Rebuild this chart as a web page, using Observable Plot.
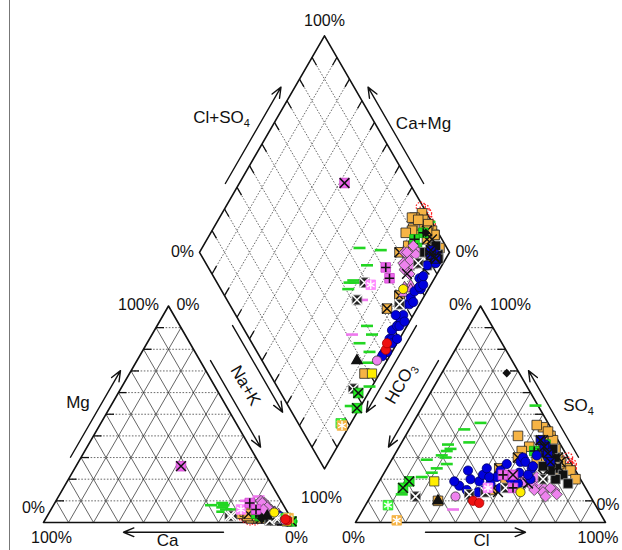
<!DOCTYPE html>
<html><head><meta charset="utf-8">
<script src="https://cdn.jsdelivr.net/npm/d3@7"></script>
<script src="https://cdn.jsdelivr.net/npm/@observablehq/plot@0.6"></script>
<style>body{margin:0;background:#fff;}svg{display:block}</style>
</head><body><div id="chart"></div>
<script>
// Each sample row: [SO4 %, Cl %, Na+K %, Mg %]   (HCO3 = 100 - SO4 - Cl, Ca = 100 - (Na+K) - Mg)
const blueCircle = [[17,33,97,1.5],[15,37,98,1],[20,36,96,2],[24,33,97,1],[14,42,98,1],[19,40,95,2],[22,40,96,1.5],[18,45,97,1],[25,40,95,2],[21,46,96,1],[16,50,98,0.5],[24,46,94,2],[20,52,96,1],[27,47,95,1.5],[18,56,97,1],[23,54,95,2],[28,52,96,1],[20,60,97,1],[30,52,94,2],[25,58,95,1.5],[22,58,96,1],[28,54,97,0.5],[31,57,94,2],[26,58,95,1],[15,44,99,0.5],[13,39,98,1],[19,30,97,1],[21,43,93,3],[33,60,96,1],[36,58,95,1.5],[30,62,97,1]];
const blueSquareX = [[35,58,95,1],[28,64,93,2],[32,61,96,1],[38,55,92,2]];
const orangeSquare = [[40,58,80,3],[44,53,82,2],[30,66,84,2],[25,72,86,3],[36,58,78,4],[33,58,80,3],[28,62,82,2],[24,74,88,2],[38,60,85,2],[42,56,90,2],[20,78,90,2],[31,62,77,4],[26,64,80,4],[35,52,78,5],[40,45,82,3],[29,58,84,3],[22,70,92,2],[33,50,88,3],[45,50,80,3],[27,68,93,2],[34,63,95,2],[10,28,94,2],[20,50,90,3]];
const orangeX = [[38,56,88,2],[25,45,90,3],[28,68,86,2],[15,47,88,3],[30,50,80,4]];
const blackSquare = [[25,68,92,1],[28,64,94,1],[22,72,93,1],[30,65,96,1],[20,70,95,1],[24,66,90,1],[32,60,92,1],[26,62,94,1],[18,76,97,1],[34,62,93,1]];
const blackSquareX = [[12,18,93,2],[14,45,73,3],[13,39,74,3],[20,65,90,1],[16,52,92,2]];
const greenPlus = [[36,58,85,3],[33,55,86,3],[32,57,83,4]];
const violetDiamond = [[17,66,85,8],[15,72,86,7],[19,60,84,9],[14,68,88,6],[18,64,82,10],[16,70,87,6],[20,58,86,7],[13,74,84,8],[17,62,89,5],[21,62,83,9],[12,70,86,7],[15,64,85,6]];
const violetTriangle = [[22,55,92,4],[20,54,90,5],[18,58,93,3],[21,51,91,4]];
const greenDash = [[46,27,72,6],[43,22,63,8],[37,27,70,6],[36,19,68,7],[34,21,69,5],[31,19,84,4],[30,21,68,8],[25,20,91,3],[23,19,93,3],[29,14,85,4],[21,16,99,0.5],[13,12,96,2],[54,45,85,4],[33,20,67,9],[27,23,88,4]];
const pinkDash = [[6,36,80,12],[12,42,76,10]];
const redDotted = [[27,73,80,2],[30,70,82,1],[25,74,78,3],[28,71,84,1],[26,73,86,2]];
const blackTimes = [[30,66,90,1],[22,64,94,2],[14,50,95,1],[18,60,88,2],[26,68,92,1]];
const magentaX = [[22,52,42,26]];
const magentaPlus = [[16,55,78,9],[22,48,82,6]];
const pinkStar = [[16,45,76,6]];
const greenStar = [[8,9,96,2]];
const orangeStar = [[1,16,97,2]];
const greenX = [[19,12,96,2],[16,11,99,0.5]];
const blackTriangle = [[10,28,88,3]];
const yellowCircle = [[14,59,90,4.6]];
const yellowSquare = [[19,22,97,0.5]];
const pinkCircle = [[12,34,96,1]];
const redCircle = [[10,42,97,1],[9,45,96,1.5]];
const blackDiamond = [[69,26,86,2]];

const samples = {blueCircle, blueSquareX, orangeSquare, orangeX, blackSquare, blackSquareX, greenPlus,
  violetDiamond, violetTriangle, greenDash, pinkDash, redDotted, blackTimes, magentaX, magentaPlus,
  pinkStar, greenStar, orangeStar, greenX, blackTriangle, yellowCircle, yellowSquare, pinkCircle, redCircle, blackDiamond};

const gridTicks = d3.range(1, 10).map(i => i / 10);

// ---------- geometry (units: triangle side = 1) ----------
const W = 622, HT = 550, PX = 250, OX = 43, OY = 522;
const G = 0.248, S3 = Math.sqrt(3) / 2;
const A = [0, 0], B = [1, 0], C = [0.5, S3];                 // Ca, Na+K, Mg
const D = [1 + G, 0], E = [2 + G, 0], F = [1.5 + G, S3];     // HCO3, Cl, SO4
const Bd = [1 + G / 2, G * S3], Ld = [0.5 + G / 2, S3 + G * S3], Rd = [1.5 + G / 2, S3 + G * S3], Td = [1 + G / 2, 2 * S3 + G * S3];
const lerp = (p, q, t) => [p[0] + (q[0] - p[0]) * t, p[1] + (q[1] - p[1]) * t];
const mix = (ws) => ws.reduce((a, [p, w]) => [a[0] + p[0] * w, a[1] + p[1] * w], [0, 0]);
const add = (p, dx, dy) => [p[0] + dx, p[1] + dy];

const pts = [];
for (const [key, rows] of Object.entries(samples)) {
  for (const [so4, cl, nak, mg] of rows) {
    const ca = 100 - nak - mg, hco3 = 100 - so4 - cl;
    const c = mix([[A, ca / 100], [B, nak / 100], [C, mg / 100]]);
    const a = mix([[D, hco3 / 100], [E, cl / 100], [F, so4 / 100]]);
    const d = [Td[0] + nak / 100 * (Rd[0] - Td[0]) + hco3 / 100 * (Ld[0] - Td[0]),
               Td[1] + nak / 100 * (Rd[1] - Td[1]) + hco3 / 100 * (Ld[1] - Td[1])];
    for (const p of [c, a, d]) pts.push({key, x: p[0], y: p[1]});
  }
}

// ---------- grid ----------
const seg = (p, q) => ({x1: p[0], y1: p[1], x2: q[0], y2: q[1]});
const dotted = [], solid = [], ticks = [], diaGrid = [];
for (const t of gridTicks) {
  dotted.push(seg(lerp(A, C, t), lerp(B, C, t)));
  solid.push(seg(lerp(A, B, t), lerp(C, B, t)));
  solid.push(seg(lerp(B, A, t), lerp(C, A, t)));
  ticks.push(seg(lerp(A, C, t), add(lerp(A, C, t), 0.032, 0)));
  dotted.push(seg(lerp(D, F, t), lerp(E, F, t)));
  solid.push(seg(lerp(D, E, t), lerp(F, E, t)));
  solid.push(seg(lerp(E, D, t), lerp(F, D, t)));
  ticks.push(seg(lerp(E, F, t), add(lerp(E, F, t), -0.032, 0)));
  diaGrid.push([lerp(Td, Rd, t), lerp(Ld, Bd, t)]);
  diaGrid.push([lerp(Td, Ld, t), lerp(Rd, Bd, t)]);
}
for (const [p, q] of diaGrid) {
  dotted.push(seg(p, q));
  const L = Math.hypot(q[0] - p[0], q[1] - p[1]), k = 0.036 / L;
  ticks.push(seg(p, lerp(p, q, k)));
  ticks.push(seg(q, lerp(q, p, k)));
}
const outline = [
  ...[A, B, C, A].map(p => ({g: 0, x: p[0], y: p[1]})),
  ...[D, E, F, D].map(p => ({g: 1, x: p[0], y: p[1]})),
  ...[Bd, Rd, Td, Ld, Bd].map(p => ({g: 2, x: p[0], y: p[1]}))
];

// ---------- arrows along edges ----------
function edgeArrow(p, q, t0, t1, off) {
  const L = Math.hypot(q[0] - p[0], q[1] - p[1]);
  const nx = -(q[1] - p[1]) / L, ny = (q[0] - p[0]) / L;
  const a = lerp(p, q, t0), b = lerp(p, q, t1);
  return {x1: a[0] + nx * off, y1: a[1] + ny * off, x2: b[0] + nx * off, y2: b[1] + ny * off};
}
const arrows = [
  edgeArrow(A, C, 0.28, 0.68, 0.037),     // Mg
  edgeArrow(E, F, 0.28, 0.68, -0.037),    // SO4
  edgeArrow(B, A, 0.28, 0.68, 0.039),     // Ca
  edgeArrow(D, E, 0.28, 0.68, -0.039),    // Cl
  edgeArrow(C, B, 0.273, 0.673, 0.0365),  // Na+K (triangle)
  edgeArrow(Ld, Bd, 0.32, 0.72, -0.032),  // Na+K (diamond)
  edgeArrow(F, D, 0.273, 0.673, -0.0365), // HCO3 (triangle)
  edgeArrow(Rd, Bd, 0.32, 0.72, 0.032),   // HCO3 (diamond)
  edgeArrow(Ld, Td, 0.29, 0.735, 0.048),  // Cl+SO4
  edgeArrow(Rd, Td, 0.29, 0.735, -0.048)  // Ca+Mg
];

// ---------- labels ----------
const pct = [
  [Td, 0, 0.058, "100%"], [Ld, -0.068, 0, "0%"], [Rd, 0.07, 0, "0%"],
  [C, -0.12, 0.004, "100%"], [C, 0.078, 0.004, "0%"], [A, -0.04, 0.06, "0%"],
  [A, 0.032, -0.062, "100%"], [B, 0.012, -0.062, "0%"],
  [F, -0.08, 0.004, "0%"], [F, 0.12, 0.004, "100%"], [E, 0.01, 0.07, "0%"],
  [D, -0.008, -0.062, "0%"], [E, -0.03, -0.062, "100%"], [D, -0.136, 0.1, "100%"]
].map(([p, dx, dy, text]) => ({x: p[0] + dx, y: p[1] + dy, text}));
const names = [
  [A, 0.138, 0.48, "Mg"], [E, -0.108, 0.468, "SO4"], [A, 0.496, -0.072, "Ca"], [D, 0.504, -0.072, "Cl"],
  [Ld, 0.088, 0.539, "Cl+SO4"], [Rd, -0.104, 0.515, "Ca+Mg"]
].map(([p, dx, dy, text]) => ({x: p[0] + dx, y: p[1] + dy, text}));
const nak = [{x: Bd[0] - 0.316, y: Bd[1] + 0.333, text: "Na+K"}];
const hco = [{x: Bd[0] + 0.304, y: Bd[1] + 0.341, text: "HCO3"}];

// ---------- marker styles ----------
const dash = {draw(ctx, size) { const r = Math.sqrt(size / Math.PI); ctx.moveTo(-r, 0); ctx.lineTo(r, 0); }};
const sq = (fill, stroke = "#222", r = 5.4) => ({symbol: "square", r, fill, stroke, strokeWidth: 0.8});
const tx = (stroke = "#111") => ({symbol: "times", r: 4.5, fill: "none", stroke, strokeWidth: 1.5});
const pl = (stroke = "#111") => ({symbol: "plus", r: 3.1, fill: "none", stroke, strokeWidth: 1.6});
const ast = (stroke = "#fff") => ({symbol: "asterisk", r: 4.2, fill: "none", stroke, strokeWidth: 1.4});
const layers = [
  ["redDotted", {symbol: "circle", r: 4.6, fill: "none", stroke: "#ff2222", strokeWidth: 1.3, strokeDasharray: "1.5,1.5"}],
  ["greenDash", {symbol: dash, r: 6, fill: "none", stroke: "#22d622", strokeWidth: 2.6}],
  ["pinkDash", {symbol: dash, r: 6, fill: "none", stroke: "#ee77ee", strokeWidth: 2.6}],
  ["orangeSquare", sq("#f6b445")],
  ["orangeX", sq("#f6b445")], ["orangeX", tx()],
  ["greenPlus", sq("#22dd22", "#1a1")], ["greenPlus", pl()],
  ["violetDiamond", {symbol: "diamond2", r: 5, fill: "#ee82ee", stroke: "#444", strokeWidth: 0.8}],
  ["violetTriangle", {symbol: "triangle", r: 3.7, fill: "#ee82ee", stroke: "#333", strokeWidth: 0.8}],
  ["blackSquare", sq("#111", "#999")],
  ["blackTimes", tx()],
  ["blueCircle", {symbol: "circle", r: 4.6, fill: "#0000dd", stroke: "#00006a", strokeWidth: 0.8}],
  ["blueSquareX", sq("#0000cc", "#111", 5)], ["blueSquareX", tx()],
  ["blackSquareX", sq("#222", "#888")], ["blackSquareX", tx("#fff")],
  ["greenX", sq("#22ee22", "#1a1")], ["greenX", tx()],
  ["greenStar", sq("#33ff33", "#3c3")], ["greenStar", ast()],
  ["orangeStar", sq("#f6b445", "#f6b445")], ["orangeStar", ast()],
  ["pinkStar", sq("#ff88ff", "#f8f")], ["pinkStar", ast()],
  ["magentaPlus", sq("#ee66ee", "#c4c")], ["magentaPlus", pl()],
  ["magentaX", sq("#ee66ee", "#c4c")], ["magentaX", tx()],
  ["blackTriangle", {symbol: "triangle", r: 3.7, fill: "#111", stroke: "#111"}],
  ["yellowCircle", {symbol: "circle", r: 4.6, fill: "#ffee00", stroke: "#333", strokeWidth: 0.8}],
  ["yellowSquare", sq("#ffee00", "#333", 5.2)],
  ["pinkCircle", {symbol: "circle", r: 4.6, fill: "#ee82ee", stroke: "#333", strokeWidth: 0.8}],
  ["redCircle", {symbol: "circle", r: 4.6, fill: "#ee1111", stroke: "#a00", strokeWidth: 0.8}],
  ["blackDiamond", {symbol: "diamond2", r: 3, fill: "#111", stroke: "#111"}]
];

const frameLeft = (9 - OX) / PX;

const plot = Plot.plot({
  width: W, height: HT, margin: 0,
  x: {domain: [-OX / PX, (W - OX) / PX], axis: null},
  y: {domain: [(OY - HT) / PX, OY / PX], axis: null},
  style: {fontFamily: "'Liberation Sans', Arial, sans-serif", background: "#fff"},
  marks: [
    Plot.ruleX([frameLeft], {stroke: "#777", strokeWidth: 1}),
    Plot.link(dotted, {x1: "x1", y1: "y1", x2: "x2", y2: "y2", stroke: "#444", strokeWidth: 0.8, strokeDasharray: "1.6,1.6"}),
    Plot.link(solid, {x1: "x1", y1: "y1", x2: "x2", y2: "y2", stroke: "#222", strokeWidth: 0.7}),
    Plot.link(ticks, {x1: "x1", y1: "y1", x2: "x2", y2: "y2", stroke: "#111", strokeWidth: 1.3}),
    Plot.line(outline, {x: "x", y: "y", z: "g", stroke: "#111", strokeWidth: 1.6}),
    Plot.arrow(arrows, {x1: "x1", y1: "y1", x2: "x2", y2: "y2", stroke: "#111", strokeWidth: 1.4, headLength: 12, headAngle: 45}),
    ...layers.map(([g, o]) => Plot.dot(pts.filter(d => d.key === g), {x: "x", y: "y", ...o})),
    Plot.text(pct, {x: "x", y: "y", text: "text", fontSize: 16, fill: "#111"}),
    Plot.text(names, {x: "x", y: "y", text: "text", fontSize: 17, fill: "#111"}),
    Plot.text(nak, {x: "x", y: "y", text: "text", fontSize: 17, fill: "#111", rotate: 60}),
    Plot.text(hco, {x: "x", y: "y", text: "text", fontSize: 17, fill: "#111", rotate: -60})
  ]
});

const subs = {"Cl+SO4": ["Cl+SO", "4"], "SO4": ["SO", "4"], "HCO3": ["HCO", "3"]};
d3.select(plot).selectAll("text").each(function () {
  const m = subs[this.textContent];
  if (m) {
    const el = d3.select(this);
    el.text(null);
    el.append("tspan").text(m[0]);
    el.append("tspan").attr("font-size", 11).attr("dy", "0.35em").text(m[1]);
  }
});
document.getElementById("chart").appendChild(plot);
</script></body></html>
